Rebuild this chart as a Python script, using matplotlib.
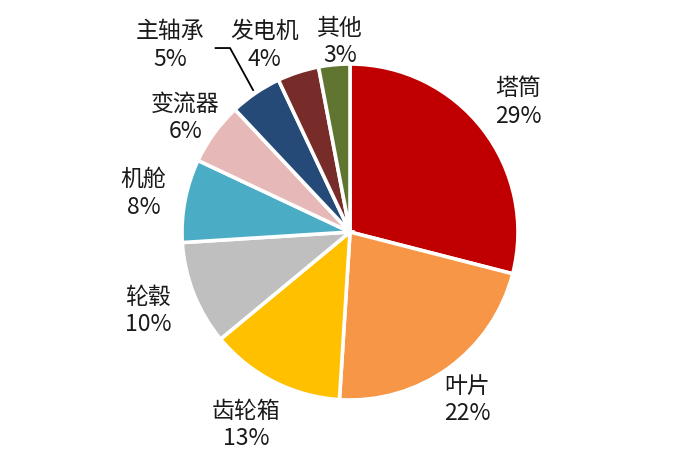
import matplotlib
matplotlib.use("Agg")
import matplotlib.pyplot as plt

plt.rcParams['font.family'] = ['Noto Sans CJK SC', 'DejaVu Sans']

categories = ["塔筒", "叶片", "齿轮箱", "轮毂", "机舱", "变流器", "主轴承", "发电机", "其他"]
values = [29, 22, 13, 10, 8, 6, 5, 4, 3]
colors = ["#C00000", "#F79646", "#FFC000", "#BFBFBF", "#4BACC6",
          "#E6B9B8", "#254A78", "#772C2A", "#5F7530"]
# label positions (in pie radius units), layout only
label_pos = [(1.00, 0.77), (0.70, -1.00), (-0.62, -1.15), (-1.20, -0.47),
             (-1.23, 0.23), (-0.98, 0.68), (-1.07, 1.11), (-0.51, 1.11), (-0.06, 1.13)]

fig = plt.figure(figsize=(7.0, 4.62), dpi=100)
ax = fig.add_axes([0, 0, 1, 1])
wedges, _ = ax.pie(values, colors=colors, startangle=90, counterclock=False,
                   radius=1.0, wedgeprops=dict(edgecolor="white", linewidth=2.6))

for cat, val, (lx, ly) in zip(categories, values, label_pos):
    ax.text(lx, ly, f"{cat}\n{val}%", ha="center", va="center",
            fontsize=16.5, color="#1a1a1a", linespacing=1.25)

# leader line for 主轴承
ax.plot([-0.80, -0.714, -0.577], [1.095, 1.095, 0.845], color="black", lw=1.3)

ax.set_xlim(-350 / 168, 350 / 168)
ax.set_ylim(-(462 - 232) / 168, 232 / 168)
ax.axis("off")
fig.savefig("out.png", dpi=100)
